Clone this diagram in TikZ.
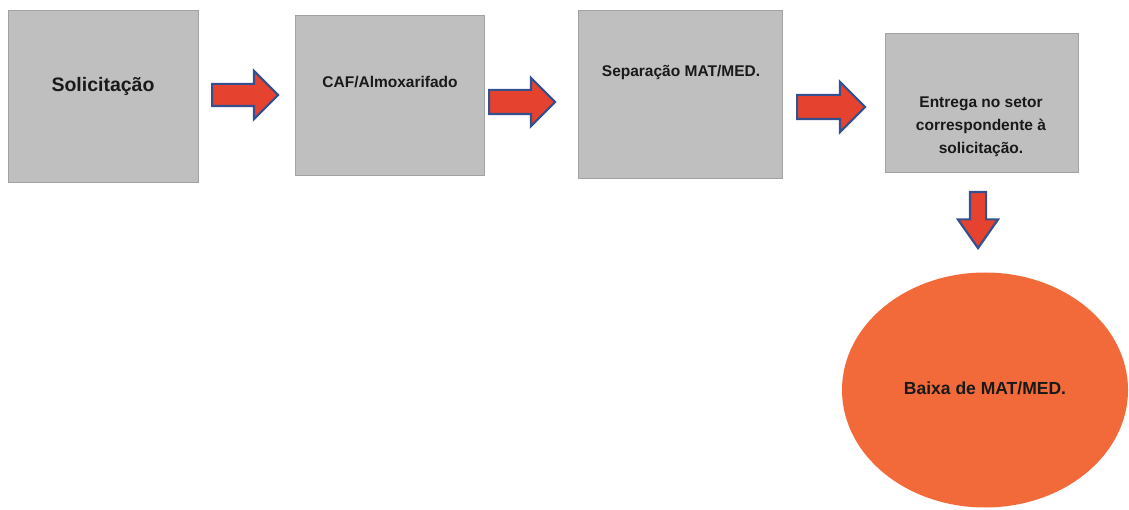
\documentclass[tikz,border=0pt]{standalone}
\usepackage{fontspec}
\setmainfont{Liberation Sans}
\usetikzlibrary{shapes.arrows, shapes.geometric}

\definecolor{boxgray}{HTML}{BFBFBF}
\definecolor{arrowred}{HTML}{E5432F}
\definecolor{arrowblue}{HTML}{34508F}
\definecolor{ballorange}{HTML}{F36A3A}

\begin{document}
\begin{tikzpicture}[x=1pt, y=-1pt,
  box/.style={draw=boxgray!85!black, line width=0.6pt, fill=boxgray, inner sep=0pt},
  boxtext/.style={font=\fontsize{15.5}{23}\selectfont\bfseries, align=center, text=black!90},
  redarrow/.style={single arrow, anchor=tail, draw=arrowblue, fill=arrowred, line width=2.2pt,
    inner xsep=0pt, inner ysep=10pt, single arrow head extend=13pt, minimum height=66pt}]
  \useasboundingbox (0,0) rectangle (1129,510);

  % the four steps
  \node[box, minimum width=190pt, minimum height=172pt] (solic) at (103,96) {};
  \node[box, minimum width=189pt, minimum height=160pt] (caf) at (389.5,95) {};
  \node[box, minimum width=204pt, minimum height=168pt] (separ) at (680,94) {};
  \node[box, minimum width=193pt, minimum height=139pt] (entrega) at (981.5,102.5) {};

  \node[boxtext, font=\fontsize{19.5}{23}\selectfont\bfseries] (solictxt) at (103,86) {Solicitação};
  \node[boxtext] (caftxt) at (390,82) {CAF/Almoxarifado};
  \node[boxtext] (separtxt) at (681,72) {Separação MAT/MED.};
  \node[boxtext] (entregatxt) at (981,127) {Entrega no setor\\correspondente à\\solicitação.};

  % end of the flow
  \node[ellipse, fill=ballorange, minimum width=286pt, minimum height=235pt] (baixa) at (985,390) {};
  \node[boxtext, font=\fontsize{17.5}{23}\selectfont\bfseries] (baixatxt) at (985,388) {Baixa de MAT/MED.};

  % block arrows between the steps
  \node[redarrow] (a1) at (211,95) {};
  \node[redarrow, inner ysep=11pt, single arrow head extend=12pt] (a2) at (488,102) {};
  \node[redarrow, inner ysep=11pt, minimum height=68pt] (a3) at (796,107) {};
  \node[redarrow, rotate=-90, inner ysep=7pt, single arrow head extend=12pt,
    single arrow tip angle=70, minimum height=56pt] (a4) at (978,191) {};
\end{tikzpicture}
\end{document}
